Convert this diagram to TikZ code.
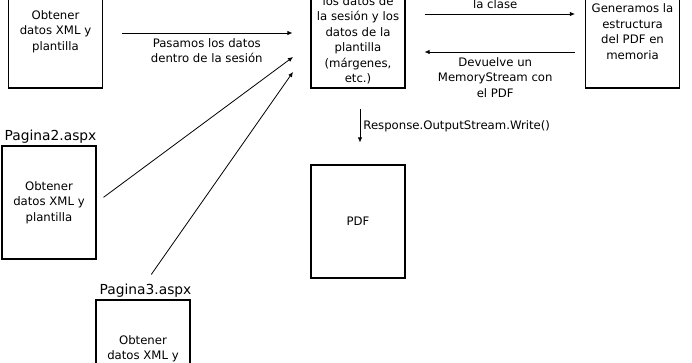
\documentclass[tikz,border=0pt]{standalone}
\usepackage{fontspec}
\setmainfont{DejaVu Sans}
\usetikzlibrary{arrows.meta,positioning}

\begin{document}
\begin{tikzpicture}[x=1pt, y=-1pt,
    box/.style={draw, line width=1.1pt, minimum width=94pt, minimum height=113pt, inner sep=0pt, align=center, font=\fontsize{11.7}{15.5}\selectfont},
    txt/.style={align=center, font=\fontsize{11.7}{15.5}\selectfont, inner sep=1pt},
    page/.style={font=\fontsize{13.8}{16}\selectfont, inner sep=1pt},
    line/.style={-{Latex[length=5pt, width=4.5pt]}, line width=0.8pt},
  ]
  \useasboundingbox (0,0) rectangle (692,363);
  \clip (0,0) rectangle (692,363);
  % pages that collect the data
  \node[box] (p1) at (55.5,31.5) {Obtener\\datos XML y\\plantilla};
  \node[box] (p2) at (49,202.5) {Obtener\\datos XML y\\plantilla};
  \node[box] (p3) at (143,356.5) {Obtener\\datos XML y\\plantilla};
  \node[page, above right=1pt and 2pt of p2.north west] (p2lab) {Pagina2.aspx};
  \node[page, above right=1pt and 3pt of p3.north west] (p3lab) {Pagina3.aspx};
  % session page, generator and result
  \node[box] (sess) at (358,31.5) {};
  \node[txt] (sesstxt) at (358,40.5) {los datos de\\la sesión y los\\datos de la\\plantilla\\(márgenes,\\etc.)};
  \node[box] (gen) at (632.5,31.5) {Generamos la\\estructura\\del PDF en\\memoria};
  \node[box] (pdf) at (358,221.5) {PDF};
  % connectors
  \draw[line, shorten <=19pt, shorten >=18pt] ([yshift=-1.5pt]p1.east) -- node[txt, below=4pt] {Pasamos los datos\\dentro de la sesión} ([yshift=-1.5pt]sess.west);
  \coordinate (in2) at (293,57);
  \coordinate (in3) at (293,72);
  \draw[line, shorten <=8.7pt] (p2.east) -- (in2);
  \draw[line, shorten <=10pt] (p3lab.north) -- (in3);
  \draw[line, shorten <=19pt, shorten >=10pt] ([yshift=17.5pt]sess.east) -- node[txt, above=4pt] {la clase} ([yshift=17.5pt]gen.west);
  \draw[line, shorten <=10pt, shorten >=19pt] ([yshift=-20.5pt]gen.west) -- node[txt, below=4pt] {Devuelve un\\MemoryStream con\\el PDF} ([yshift=-20.5pt]sess.east);
  \draw[line, shorten <=20pt, shorten >=22pt] ([xshift=2pt]sess.south) -- node[txt, right=2pt] {Response.OutputStream.Write()} ([xshift=2pt]pdf.north);
\end{tikzpicture}
\end{document}
